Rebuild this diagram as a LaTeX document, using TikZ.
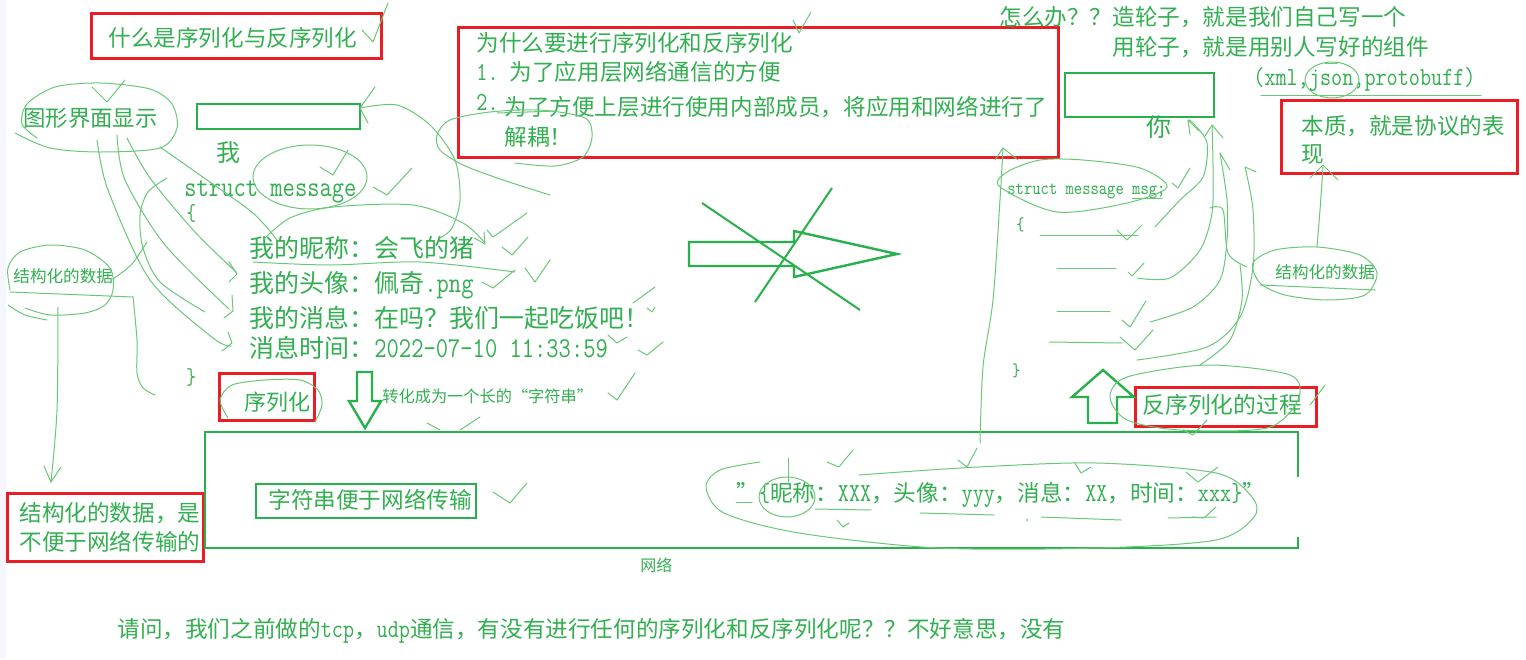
\documentclass[tikz,border=0pt]{standalone}
\usepackage{fontspec}
\setmainfont{Noto Sans CJK SC}
\setmonofont{Latin Modern Mono}[Scale=1.15,FakeStretch=0.83]
\newcommand{\mt}[1]{\texttt{#1}}
\newcommand{\T}[5]{\node[txt,font=\fontsize{#4pt}{#4pt}\selectfont] (#1) at (#2,{#3+0.76*#4}) {#5};}
\definecolor{tg}{RGB}{50,175,80}
\definecolor{bg}{RGB}{40,176,76}
\definecolor{sg}{RGB}{105,200,120}
\definecolor{rb}{RGB}{236,28,36}
\definecolor{edge}{RGB}{245,247,252}
\begin{document}
\begin{tikzpicture}[x=0.5pt,y=-0.5pt,
  txt/.style={text=tg,inner sep=0pt,anchor=base west},
  sk/.style={draw=sg,line width=0.5pt,line cap=round,line join=round},
  rbox/.style={draw=rb,line width=1.5pt},
  gbox/.style={draw=bg,line width=1.2pt}]
\fill[white] (0,0) rectangle (1526,659);
\useasboundingbox (0,0) rectangle (1526,659);
\fill[edge] (0,0) rectangle (6,659);

% ---------- red boxes ----------
\draw[rbox] (91,13) rectangle (381,58);
\draw[rbox] (458,27) rectangle (1058,157);
\draw[rbox] (1281,100) rectangle (1517,173);
\draw[rbox] (219,373) rectangle (314,420);
\draw[rbox] (1135,387) rectangle (1316,426);
\draw[rbox] (7,493) rectangle (203,561);

% ---------- green boxes ----------
\draw[gbox] (197,104) rectangle (360,129);
\draw[gbox] (1065,73) rectangle (1214,117);
\draw[gbox] (1298,477) -- (1298,432) -- (205,432) -- (205,548) -- (1298,548) -- (1298,537);
\draw[gbox] (256,484) rectangle (476,518);

% hollow arrows
\draw[gbox] (689,242) -- (794,242) -- (794,231) -- (897,254) -- (794,277) -- (794,266) -- (689,266) -- cycle;
\draw[gbox,line width=1pt] (702,203) -- (860,310);
\draw[gbox,line width=1pt] (832,188) -- (755,302);
\draw[gbox] (357,372) -- (372,372) -- (372,401) -- (381,401) -- (365,428) -- (349,401) -- (357,401) -- cycle;
\draw[gbox] (1088,423) -- (1088,397) -- (1072,397) -- (1103,370) -- (1134,397) -- (1117,397) -- (1117,423) -- cycle;

% ---------- texts ----------
\T{t1}{108}{38}{11.3}{什么是序列化与反序列化}
\T{t2}{476}{43}{11.3}{为什么要进行序列化和反序列化}
\T{t3}{476}{72}{11.3}{\mt{1. }为了应用层网络通信的方便}
\T{t4}{476}{102}{11.3}{\mt{2.}}
\T{t5}{504}{107}{11.3}{为了方便上层进行使用内部成员，将应用和网络进行了}
\T{t6}{504}{137}{11.3}{解耦！}
\T{t7}{999}{17}{11.3}{怎么办？？造轮子，就是我们自己写一个}
\T{t8}{1112}{47}{11.3}{用轮子，就是用别人写好的组件}
\T{t9}{1253}{77}{11.3}{\mt{(xml,json,protobuff)}}
\T{t10}{1146}{127}{12.5}{你}
\T{t11}{1301}{126}{11.3}{本质，就是协议的表}
\T{t12}{1301}{154}{11.3}{现}
\T{t13}{23}{118}{11.2}{图形界面显示}
\T{t14}{216}{152}{12}{我}
\T{t15}{184}{187}{12.5}{\mt{struct message}}
\T{t16}{186}{213}{10}{\mt{\{}}
\T{t17}{186}{377}{10}{\mt{\}}}
\T{t18}{249}{248}{12.5}{我的昵称：会飞的猪}
\T{t19}{249}{283}{12.5}{我的头像：佩奇\mt{.png}}
\T{t20}{249}{318}{12.5}{我的消息：在吗？我们一起吃饭吧！}
\T{t21}{249}{348}{12.5}{消息时间：\mt{2022-07-10 11:33:59}}
\T{t22}{13}{276}{8.3}{结构化的数据}
\T{t23}{244}{402}{11}{序列化}
\T{t24}{382}{396}{8.1}{转化成为一个长的“字符串”}
\T{t25}{268}{500}{11.3}{字符串便于网络传输}
\T{t26}{19}{513}{11.3}{结构化的数据，是}
\T{t27}{19}{542}{11.3}{不便于网络传输的}
\T{t28}{640}{565}{8}{网络}
\T{t29}{117}{629}{11.3}{请问，我们之前做的\mt{tcp}，\mt{udp}通信，有没有进行任何的序列化和反序列化呢？？不好意思，没有}
\T{t30}{736}{493}{11.3}{”\mt{\{}昵称：\mt{XXX}，头像：\mt{yyy}，消息：\mt{XX}，时间：\mt{xxx}\mt{\}}”}
\T{t31}{1142}{405}{11.4}{反序列化的过程}
\T{t32}{1007}{188}{8.3}{\mt{struct message msg;}}
\T{t33}{1016}{224}{8}{\mt{\{}}
\T{t34}{1012}{370}{8}{\mt{\}}}
\T{t35}{1275}{272}{8.3}{结构化的数据}

% ---------- sketch strokes, left ----------
\draw[sk] plot[smooth] coordinates {(15,133) (50,148) (100,152) (160,148) (177,128) (172,104) (150,89) (100,83) (55,87) (27,104) (22,124) (37,138)};
\draw[sk] (92,87) -- (107,102) -- (125,80);
\draw[sk] plot[smooth] coordinates {(97,140) (108,190) (150,280) (213,338) (231,346)};
\draw[sk] (228,332) -- (232,343) -- (222,351);
\draw[sk] plot[smooth] coordinates {(117,135) (125,180) (165,245) (229,309)};
\draw[sk] (232,295) -- (233,311) -- (224,318);
\draw[sk] plot[smooth] coordinates {(127,138) (150,178) (195,232) (236,272)};
\draw[sk] (229,262) -- (237,274) -- (229,282);
\draw[sk] plot[smooth] coordinates {(160,147) (207,180) (253,213) (277,240)};
\draw[sk] plot[smooth] coordinates {(167,178) (148,192) (140,215) (143,248) (160,282) (205,312)};
\draw[sk] plot[smooth] coordinates {(113,279) (132,264) (147,242)};
\draw[sk] plot[smooth] coordinates {(10,290) (8,268) (20,252) (50,245) (85,250) (110,268) (113,290) (105,305) (85,313) (50,315) (25,308)};
\draw[sk] (10,292) -- (133,297);
\draw[sk] plot[smooth] coordinates {(8,305) (25,315) (47,320)};
\draw[sk] plot[smooth] coordinates {(58,307) (57,410) (51,482)};
\draw[sk] (44,466) -- (51,482) -- (61,467);
\draw[sk] plot[smooth] coordinates {(133,297) (137,340) (137,373) (143,388) (155,395)};
\draw[sk] (310,177) ellipse [x radius=28.5pt, y radius=16pt];
\draw[sk] (320,167) -- (333,175) -- (348,150);
\draw[sk] (373,187) -- (387,195) -- (412,168);
\draw[sk] (375,87) -- (360,108) -- (368,123);
\draw[sk] plot[smooth] coordinates {(360,108) (397,105) (430,125) (455,160) (460,200) (452,228) (440,238)};
\draw[sk] plot[smooth] coordinates {(263,240) (290,218) (333,207) (413,205) (463,223) (485,243)};
\draw[sk] (474,238) -- (485,244) -- (484,232);
\draw[sk] plot[smooth] coordinates {(253,262) (330,265) (420,262) (515,272)};
\draw[sk] plot[smooth] coordinates {(550,195) (503,180) (463,165) (440,150) (437,135) (450,120) (490,112) (540,110) (585,118) (592,137) (583,157) (555,166) (515,163)};
\draw[sk] (497,113) -- (557,111);
\draw[sk] (487,230) -- (493,237) -- (527,213);
\draw[sk] (502,247) -- (512,255) -- (528,237);
\draw[sk] (482,282) -- (493,288) -- (515,270);
\draw[sk] (525,268) -- (535,282) -- (550,260);
\draw[sk] (633,303) -- (655,287);
\draw[sk] (647,308) -- (652,312) -- (655,307);
\draw[sk] (608,335) -- (617,343) -- (627,337);
\draw[sk] (638,350) -- (647,355) -- (663,342);
\draw[sk] (608,393) -- (617,400) -- (635,373);
\draw[sk] (427,423) -- (440,430);
\draw[sk] (460,430) -- (480,417);
\draw[sk] (493,492) -- (510,503) -- (527,483);
\draw[sk] plot[smooth] coordinates {(228,418) (220,400) (232,385) (265,380) (300,380) (318,390) (322,405) (315,422)};

% ---------- top ----------
\draw[sk] (362,30) -- (373,42) -- (388,3);
\draw[sk] (793,20) -- (799,33) -- (811,12);
\draw[sk] (1332,80) ellipse [x radius=13.5pt, y radius=9pt];
\draw[sk] (1261,95) -- (1481,95);
\draw[sk] (1325,63) -- (1337,63);

% ---------- right ----------
\draw[sk] plot[smooth cycle] coordinates {(1000,187) (1007,172) (1040,160) (1083,160) (1140,168) (1167,187) (1127,203) (1057,212)};
\draw[sk] (1172,183) -- (1178,188) -- (1190,168);
\draw[sk] (1132,198) -- (1162,198);
\draw[sk] plot[smooth] coordinates {(1003,148) (1000,200) (993,300) (983,367) (980,443)};
\draw[sk] (995,160) -- (1003,148) -- (1018,160);
\draw[sk] (958,460) -- (967,467) -- (977,448);
\draw[sk] (1040,235) -- (1138,235);
\draw[sk] (1057,268) -- (1116,268);
\draw[sk] (1057,311) -- (1110,311);
\draw[sk] (1049,342) -- (1122,343);
\draw[sk] (1117,230) -- (1127,240) -- (1142,225);
\draw[sk] (1128,272) -- (1132,276) -- (1144,263);
\draw[sk] (1122,320) -- (1130,327) -- (1146,301);
\draw[sk] (1120,337) -- (1135,350) -- (1153,330);
\draw[sk] plot[smooth] coordinates {(1155,227) (1180,200) (1203,177) (1207,143) (1193,123) (1188,120)};
\draw[sk] (1190,135) -- (1188,120) -- (1199,131);
\draw[sk] plot[smooth] coordinates {(1137,278) (1170,278) (1200,250) (1212,213) (1213,167) (1212,125)};
\draw[sk] (1205,136) -- (1212,125) -- (1223,138);
\draw[sk] plot[smooth] coordinates {(1150,322) (1193,307) (1220,280) (1227,240) (1227,200) (1220,153)};
\draw[sk] (1220,153) -- (1230,170);
\draw[sk] plot[smooth] coordinates {(1137,360) (1207,347) (1240,317) (1253,267) (1253,210) (1245,167)};
\draw[sk] (1245,167) -- (1256,172);
\draw[sk] plot[smooth] coordinates {(1200,365) (1230,340) (1242,300) (1240,265)};
\draw[sk] plot[smooth] coordinates {(1210,208) (1223,210) (1228,253) (1247,267)};
\draw[sk] plot[smooth cycle] coordinates {(1253,263) (1275,250) (1317,247) (1360,255) (1377,273) (1365,295) (1327,300) (1285,295) (1260,283)};
\draw[sk] (1260,285) -- (1375,290);
\draw[sk] plot[smooth] coordinates {(1317,247) (1320,210) (1323,167)};
\draw[sk] (1310,178) -- (1323,165) -- (1338,180);
\draw[sk] plot[smooth cycle] coordinates {(1110,397) (1127,377) (1207,365) (1290,375) (1298,400) (1267,428) (1180,430) (1127,420)};
\draw[sk] (1310,405) -- (1325,385);
\draw[sk] (1183,430) -- (1193,435) -- (1207,420);

% ---------- string area ----------
\draw[sk] plot[smooth] coordinates {(760,462) (720,470) (706,487) (724,513) (799,533) (938,548) (1097,548) (1216,540) (1254,517) (1252,497) (1216,473) (1097,463) (978,467) (859,475)};
\draw[sk] (787,497) ellipse [x radius=14pt, y radius=10pt];
\draw[sk] (788,458) -- (788,482);
\draw[sk] (827,462) -- (839,467) -- (853,450);
\draw[sk] (1075,463) -- (1081,473) -- (1091,467);
\draw[sk] (1186,472) -- (1198,482) -- (1218,467);
\draw[sk] (837,520) -- (843,527) -- (849,523);
\draw[sk] (1192,517) -- (1204,518) -- (1216,507);
\draw[sk] (736,502) -- (752,502);
\draw[sk] (815,509) -- (871,510);
\draw[sk] (920,513) -- (994,515);
\draw[sk] (1041,517) -- (1121,520);
\draw[sk] (1168,518) -- (1216,517);
\fill[sg] (1027,520) circle (0.6pt);
\end{tikzpicture}
\end{document}
